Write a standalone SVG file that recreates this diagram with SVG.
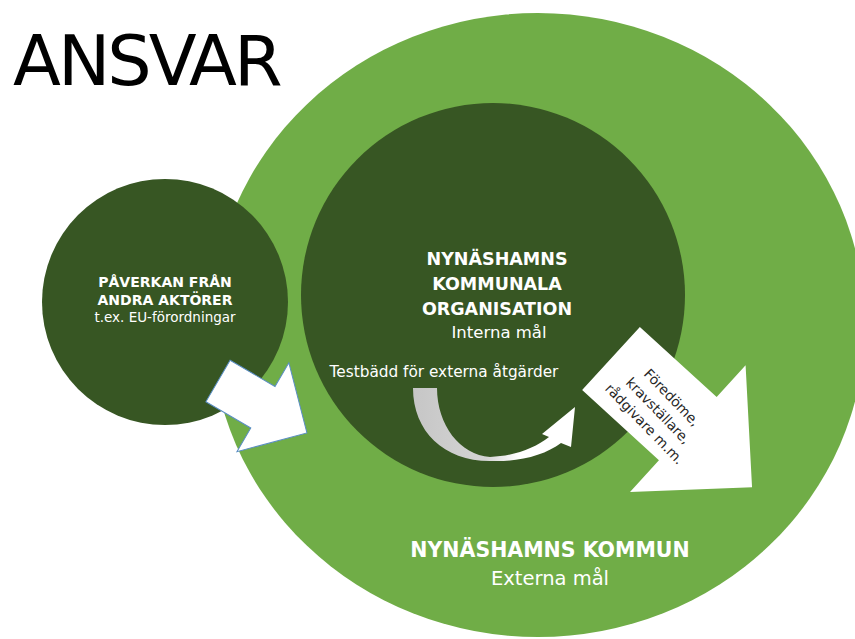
<svg xmlns="http://www.w3.org/2000/svg" width="855" height="639" viewBox="0 0 855 639">
<defs>
<style>
text{font-family:"DejaVu Sans","Liberation Sans",sans-serif;}
.w{fill:#ffffff;}
.b{font-weight:bold;}
.c{text-anchor:middle;}
.light{fill:#70AD47;}
.dark{fill:#375623;}
</style>
<linearGradient id="curveGrad" gradientUnits="userSpaceOnUse" x1="413" y1="0" x2="575" y2="0">
<stop offset="0" stop-color="#c6c6c6"/>
<stop offset="0.45" stop-color="#d4d4d4"/>
<stop offset="0.65" stop-color="#ffffff"/>
<stop offset="1" stop-color="#ffffff"/>
</linearGradient>
</defs>
<rect width="855" height="639" fill="#ffffff"/>
<text x="13" y="85" font-size="70" letter-spacing="-3" fill="#000000">ANSVAR</text>

<g id="kommun">
<ellipse class="light" cx="538" cy="325" rx="327" ry="312"/>
<text class="w b c" x="550" y="557" font-size="20.5">NYNÄSHAMNS KOMMUN</text>
<text class="w c" x="550" y="585" font-size="19.5">Externa mål</text>
</g>

<g id="organisation">
<circle class="dark" cx="493" cy="295" r="192"/>
<text class="w b c" x="497" y="265" font-size="17.5">NYNÄSHAMNS</text>
<text class="w b c" x="497" y="290" font-size="17.5">KOMMUNALA</text>
<text class="w b c" x="497" y="315" font-size="17.5">ORGANISATION</text>
<text class="w c" x="499" y="338" font-size="16.5">Interna mål</text>
</g>

<g id="aktorer">
<circle class="dark" cx="165" cy="302" r="123"/>
<text class="w b c" x="165" y="287" font-size="14">PÅVERKAN FRÅN</text>
<text class="w b c" x="165" y="305" font-size="14">ANDRA AKTÖRER</text>
<text class="w c" x="165" y="322" font-size="13.5">t.ex. EU-förordningar</text>
</g>

<g id="connectors">
<path transform="translate(218,381) rotate(30.3)" d="M0,-24 L52,-24 L52,-51.5 L103,0 L52,51.5 L52,24 L0,24 Z" fill="#ffffff" stroke="#5b8ec4" stroke-width="1"/>
<path transform="translate(611,358.5) rotate(42.4)" d="M0,-42.8 L104,-42.8 L104,-85.7 L191,0 L104,85.7 L104,42.8 L0,42.8 Z" fill="#ffffff"/>
<g transform="translate(658,411) rotate(46)" fill="#262626" font-size="13.8" text-anchor="middle">
<text x="0" y="-14.5">Föredöme,</text>
<text x="0" y="4.5">kravställare,</text>
<text x="0" y="23.5">rådgivare m.m.</text>
</g>
<path d="M413,388 L437,388 C437,425 460,455 490,457 C515,456 535,448 549,437 L542,434 L575,407 L571,447 L561,443 C545,455 520,462 492,461 C445,462 413,432 413,388 Z" fill="url(#curveGrad)"/>
<text class="w c" x="444" y="377" font-size="15.3">Testbädd för externa åtgärder</text>
</g>
</svg>
